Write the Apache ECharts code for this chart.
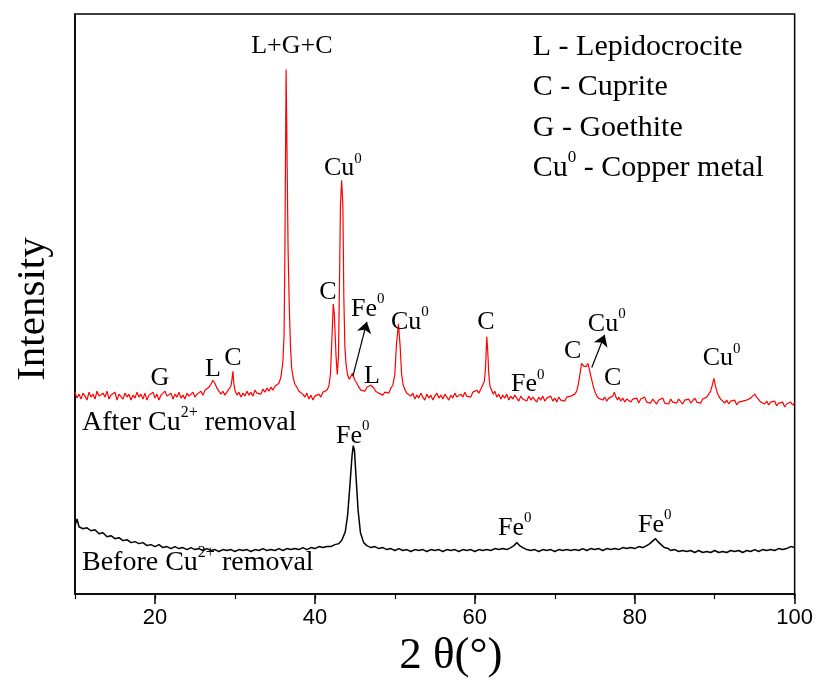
<!DOCTYPE html>
<html>
<head>
<meta charset="utf-8">
<script src="https://cdn.jsdelivr.net/npm/echarts@6/dist/echarts.min.js"></script>
<style>
  html, body { margin: 0; padding: 0; background: #fff; }
  #chart { width: 816px; height: 684px; }
</style>
</head>
<body>
<div id="chart"></div>
<script>
// 2θ (deg), intensity (arbitrary units)
const afterRemoval = [
  [10,204],[10.25,198],[10.5,202],[10.75,197],[11,203],[11.25,200],[11.5,196],[11.75,204],[12,199],[12.25,202],
  [12.5,197],[12.75,205],[13,200],[13.25,198],[13.5,203],[13.75,199],[14,205],[14.25,197],[14.5,201],[14.75,199],
  [15,204],[15.25,196],[15.5,202],[15.75,200],[16,197],[16.25,203],[16.5,199],[16.75,202],[17,196],[17.25,201],
  [17.5,198],[17.75,204],[18,199],[18.25,202],[18.5,197],[18.75,203],[19,196],[19.25,201],[19.5,199],[19.75,204],
  [20,198],[20.25,202],[20.5,196],[20.75,201],[21,199],[21.25,205],[21.5,200],[21.75,198],[22,203],[22.25,197],
  [22.5,202],[22.75,199],[23,204],[23.25,198],[23.5,201],[23.75,197],[24,203],[24.25,200],[24.5,198],[24.75,204],
  [25,199],[25.25,202],[25.5,200],[25.75,205],[26,201],[26.25,206],[26.5,204],[26.75,209],[27,212],[27.25,216],
  [27.5,213],[27.75,208],[28,206],[28.25,202],[28.5,205],[28.75,201],[29,204],[29.25,207],[29.5,210],[29.65,218],
  [29.75,225],[29.85,214],[30,206],[30.25,201],[30.5,204],[30.75,199],[31,203],[31.25,200],[31.5,205],[31.75,201],
  [32,204],[32.25,200],[32.5,206],[32.75,203],[33,205],[33.25,202],[33.5,207],[33.75,204],[34,208],[34.25,205],
  [34.5,209],[34.75,206],[35,210],[35.25,208],[35.5,213],[35.75,219],[36.0,235],[36.15,262],[36.25,347],[36.4,530],
  [36.55,528],[36.65,347],[36.8,290],[36.95,250],[37.1,228],[37.3,218],[37.5,212],[37.75,209],[38,205],[38.25,207],
  [38.5,202],[38.75,199],[39,203],[39.25,197],[39.5,201],[39.75,196],[40,200],[40.25,198],[40.5,202],[40.75,199],
  [41,204],[41.25,202],[41.5,206],[41.75,210],[41.95,222],[42.15,262],[42.3,293],[42.42,284],[42.52,282],[42.65,240],
  [42.8,222],[42.95,240],[43.1,330],[43.2,393],[43.35,418],[43.5,393],[43.62,300],[43.75,250],[43.9,232],[44.1,221],
  [44.3,217],[44.5,219],[44.7,223],[44.85,222],[45.0,216],[45.25,213],[45.5,209],[45.75,206],[46,208],[46.25,205],
  [46.5,209],[46.75,207],[47,211],[47.2,213],[47.4,208],[47.6,205],[47.8,207],[48,203],[48.25,205],[48.5,201],
  [48.75,204],[49,206],[49.25,203],[49.5,208],[49.75,211],[50,222],[50.2,252],[50.45,273],[50.65,252],[50.85,222],
  [51.05,211],[51.3,206],[51.5,203],[51.75,205],[52,200],[52.25,203],[52.5,197],[52.75,201],[53,198],[53.25,203],
  [53.5,199],[53.75,196],[54,202],[54.25,198],[54.5,201],[54.75,196],[55,200],[55.25,203],[55.5,198],[55.75,201],
  [56,197],[56.25,202],[56.5,199],[56.75,196],[57,201],[57.25,198],[57.5,203],[57.75,199],[58,197],[58.25,202],
  [58.5,199],[58.75,204],[59,200],[59.25,202],[59.5,199],[59.75,204],[60,202],[60.25,206],[60.5,203],[60.75,207],
  [61,209],[61.2,215],[61.35,230],[61.5,260],[61.62,245],[61.75,222],[61.9,210],[62.1,206],[62.3,202],[62.5,205],
  [62.75,199],[63,202],[63.25,197],[63.5,201],[63.75,198],[64,202],[64.25,196],[64.5,200],[64.75,197],[65,201],
  [65.25,198],[65.5,195],[65.75,200],[66,197],[66.25,199],[66.5,195],[66.75,200],[67,196],[67.25,199],[67.5,197],
  [67.75,194],[68,199],[68.25,196],[68.5,200],[68.75,195],[69,198],[69.25,196],[69.5,200],[69.75,195],[70,198],
  [70.25,194],[70.5,199],[70.75,196],[71,198],[71.25,195],[71.5,199],[71.75,197],[72,200],[72.25,198],[72.5,202],
  [72.75,205],[72.95,212],[73.15,222],[73.35,233],[73.5,235],[73.65,230],[73.8,228],[73.95,230],[74.15,233],[74.35,226],
  [74.55,219],[74.75,212],[74.95,206],[75.2,201],[75.45,198],[75.7,200],[76,196],[76.25,199],[76.5,195],[76.75,198],
  [77,197],[77.25,200],[77.45,204],[77.65,199],[77.85,196],[78,199],[78.25,195],[78.5,198],[78.75,194],[79,197],
  [79.25,199],[79.5,194],[79.75,197],[80,195],[80.25,198],[80.5,193],[80.75,197],[81,195],[81.25,199],[81.5,194],
  [81.75,196],[82,193],[82.25,197],[82.5,195],[82.75,192],[83,196],[83.25,194],[83.5,198],[83.75,193],[84,195],
  [84.25,192],[84.5,197],[84.75,194],[85,196],[85.25,193],[85.5,197],[85.75,195],[86,192],[86.25,196],[86.5,194],
  [86.75,197],[87,193],[87.25,195],[87.5,198],[87.75,194],[88,196],[88.25,193],[88.5,197],[88.75,196],[89,199],
  [89.25,201],[89.5,205],[89.7,211],[89.9,218],[90.1,210],[90.3,204],[90.5,200],[90.75,197],[91,195],[91.25,193],
  [91.5,196],[91.75,192],[92,195],[92.25,193],[92.5,196],[92.75,191],[93,194],[93.25,192],[93.5,195],[93.75,193],
  [94,196],[94.25,194],[94.5,198],[94.75,200],[95,202],[95.25,199],[95.5,197],[95.75,194],[96,196],[96.25,192],
  [96.5,195],[96.75,191],[97,194],[97.25,192],[97.5,195],[97.75,190],[98,193],[98.25,191],[98.5,194],[98.75,189],
  [99,192],[99.25,190],[99.5,194],[99.75,191],[100,193]
];

const beforeRemoval = [
  [10,69],[10.25,76],[10.5,68],[10.75,70],[11,66],[11.5,67],[12,64],[12.5,65],[13,61],[13.5,62],
  [14,58],[14.5,59],[15,56],[15.5,57],[16,54],[16.5,55],[17,52],[17.5,53],[18,51],[18.5,52],
  [19,49],[19.5,50],[20,48],[20.5,50],[21,47],[21.5,48],[22,46],[22.5,48],[23,46],[23.5,47],
  [24,45],[24.5,47],[25,45],[25.5,46],[26,44],[26.5,46],[27,44],[27.5,45],[28,43],[28.5,45],
  [29,44],[29.5,45],[30,43],[30.5,45],[31,44],[31.5,45],[32,43],[32.5,45],[33,44],[33.5,46],
  [34,44],[34.5,45],[35,44],[35.5,46],[36,44],[36.5,46],[37,45],[37.5,46],[38,45],[38.5,47],
  [39,45],[39.5,47],[40,46],[40.5,48],[41,47],[41.5,48],[42,48],[42.5,50],[43,51],[43.4,55],
  [43.8,63],[44.1,80],[44.4,112],[44.65,140],[44.8,150],[44.95,145],[45.15,118],[45.4,85],[45.7,62],[46.1,52],
  [46.5,49],[47,47],[47.5,48],[48,46],[48.5,47],[49,45],[49.5,46],[50,44],[50.5,46],[51,44],
  [51.5,45],[52,43],[52.5,45],[53,44],[53.5,45],[54,43],[54.5,45],[55,44],[55.5,45],[56,43],
  [56.5,45],[57,44],[57.5,45],[58,43],[58.5,45],[59,44],[59.5,45],[60,43],[60.5,45],[61,44],
  [61.5,45],[62,44],[62.5,46],[63,45],[63.5,46],[64,45],[64.5,47],[64.9,49],[65.25,52],[65.6,49],
  [66,47],[66.5,45],[67,44],[67.5,45],[68,43],[68.5,45],[69,44],[69.5,45],[70,43],[70.5,45],
  [71,44],[71.5,45],[72,44],[72.5,45],[73,44],[73.5,46],[74,44],[74.5,46],[75,45],[75.5,46],
  [76,44],[76.5,46],[77,45],[77.5,46],[78,45],[78.5,47],[79,46],[79.5,47],[80,46],[80.5,48],
  [81,47],[81.5,49],[81.9,51],[82.3,54],[82.6,56],[82.9,53],[83.3,50],[83.7,47],[84.2,46],[84.5,44],
  [85,45],[85.5,43],[86,44],[86.5,43],[87,44],[87.5,42],[88,44],[88.5,42],[89,43],[89.5,42],
  [90,44],[90.5,42],[91,43],[91.5,42],[92,44],[92.5,43],[93,44],[93.5,42],[94,44],[94.5,43],
  [95,45],[95.5,43],[96,45],[96.5,44],[97,45],[97.5,44],[98,46],[98.5,45],[99,46],[99.5,48],
  [100,47]
];

const xTicks = [20, 40, 60, 80, 100];

// [2θ, intensity, text, superscript]
const peakLabels = [
  [37.125, 553, 'L+G+C', ''],
  [43.5, 430, 'Cu', '0'],
  [41.625, 305, 'C', ''],
  [46.625, 288, 'Fe', '0'],
  [47.125, 220, 'L', ''],
  [51.875, 275, 'Cu', '0'],
  [61.375, 275, 'C', ''],
  [66.625, 212, 'Fe', '0'],
  [72.25, 245, 'C', ''],
  [76.5, 273, 'Cu', '0'],
  [77.25, 218, 'C', ''],
  [90.875, 238, 'Cu', '0'],
  [20.625, 218, 'G', ''],
  [27.25, 227, 'L', ''],
  [29.75, 238, 'C', ''],
  [44.75, 160, 'Fe', '0'],
  [65, 67, 'Fe', '0'],
  [82.5, 70, 'Fe', '0']
];

// left aligned: [2θ, intensity, text, superscript, tail]
const sampleLabels = [
  [10.875, 173, 'After Cu', '2+', ' removal'],
  [10.875, 32, 'Before Cu', '2+', ' removal']
];

const phaseKey = [
  [67.25, 553, 'L - Lepidocrocite', '', ''],
  [67.25, 512, 'C - Cuprite', '', ''],
  [67.25, 471, 'G - Goethite', '', ''],
  [67.25, 430, 'Cu', '0', ' - Copper metal']
];

const arrows = [
  [[44.75, 220], [46.5, 275]],
  [[74.625, 229], [76.25, 262]]
];

const SERIF = 'Liberation Serif, Times New Roman, serif';

function richText(main, sup, tail) {
  let s = '{t|' + main + '}';
  if (sup) s += '{s|' + sup + '}';
  if (tail) s += '{t|' + tail + '}';
  return s;
}

function makeRich(size) {
  return {
    t: { fontFamily: SERIF, fontSize: size, color: '#000', lineHeight: size + 8 },
    s: { fontFamily: SERIF, fontSize: Math.round(size * 0.58), color: '#000', verticalAlign: 'top', lineHeight: size + 8 }
  };
}

function textSeries(rows, size, position) {
  return {
    type: 'scatter', symbolSize: 0, z: 5, silent: true,
    itemStyle: { color: 'rgba(0,0,0,0)', opacity: 1 },
    data: rows.map(p => ({
      value: [p[0], p[1]],
      label: {
        show: true, position: position, distance: 0,
        formatter: richText(p[2], p[3], p[4] || ''), rich: makeRich(size)
      }
    }))
  };
}

const chart = echarts.init(document.getElementById('chart'));

const option = {
  animation: false,
  backgroundColor: '#fff',
  grid: {
    left: 75, right: 21, top: 14, bottom: 84,
    show: true, borderColor: '#000', borderWidth: 1.5
  },
  xAxis: [{
    type: 'value', min: 10, max: 100, interval: 10,
    axisLine: { show: true, lineStyle: { color: '#000', width: 1.5 } },
    axisTick: { show: true, customValues: xTicks, length: 10, lineStyle: { color: '#000', width: 1.5 } },
    axisLabel: { customValues: xTicks, fontFamily: 'Liberation Sans, Arial, sans-serif', fontSize: 22, color: '#000', margin: 13 },
    splitLine: { show: false },
    name: '2 θ(°)', nameLocation: 'middle', nameGap: 36,
    nameTextStyle: { fontFamily: SERIF, fontSize: 45, color: '#000', padding: [0, 0, 0, 32] }
  }, {
    type: 'value', min: 10, max: 100, interval: 10, position: 'bottom',
    axisLine: { show: false },
    axisTick: { show: true, length: 5, lineStyle: { color: '#000', width: 1.2 } },
    axisLabel: { show: false },
    splitLine: { show: false }
  }],
  yAxis: {
    type: 'value', min: 0, max: 586,
    axisLine: { show: true, lineStyle: { color: '#000', width: 1.5 } },
    axisTick: { show: false },
    axisLabel: { show: false },
    splitLine: { show: false },
    name: 'Intensity', nameLocation: 'middle', nameGap: 21,
    nameTextStyle: { fontFamily: SERIF, fontSize: 41, color: '#000', padding: [0, 10, 0, 0] }
  },
  series: [
    {
      name: 'After', type: 'line', data: afterRemoval, showSymbol: false,
      lineStyle: { color: '#ff0000', width: 1.2 }, sampling: 'none', z: 3
    },
    {
      name: 'Before', type: 'line', data: beforeRemoval, showSymbol: false,
      lineStyle: { color: '#000', width: 1.5 }, z: 3
    },
    {
      type: 'lines', coordinateSystem: 'cartesian2d', silent: true,
      data: arrows.map(a => ({ coords: a })),
      symbol: ['none', 'arrow'], symbolSize: 11,
      lineStyle: { color: '#000', width: 1.2, opacity: 1 }, z: 4
    },
    textSeries(peakLabels, 26, 'inside'),
    textSeries(sampleLabels, 28, 'right'),
    textSeries(phaseKey, 30, 'right')
  ]
};

chart.setOption(option);
window.addEventListener('resize', () => chart.resize());
</script>
</body>
</html>
